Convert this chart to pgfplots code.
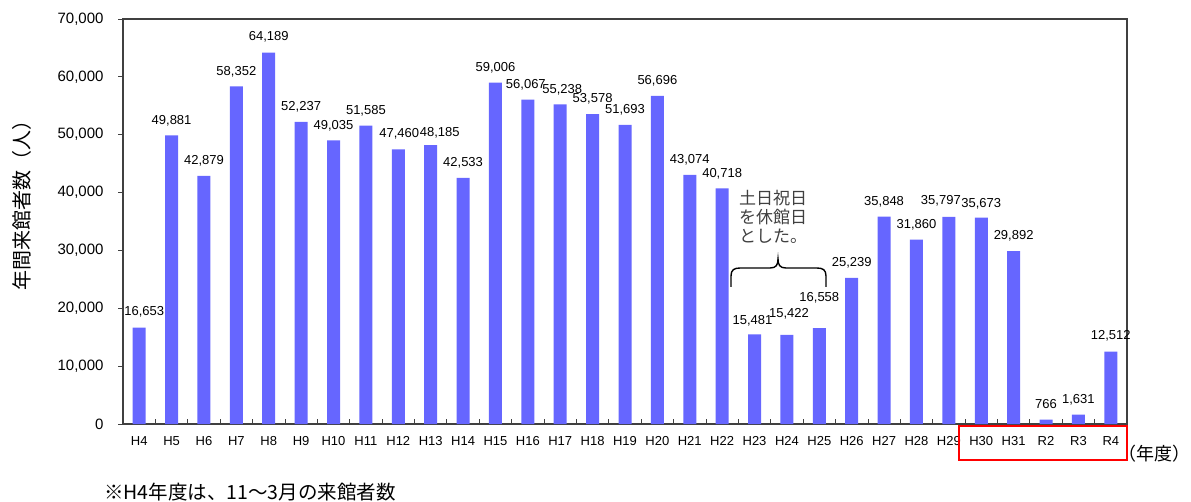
\documentclass[border=0pt]{standalone}
\usepackage{fontspec}
\setmainfont{Liberation Sans}
\newfontfamily\jp{Noto Sans CJK JP}
\usepackage{pgfplots}
\usepackage{pgfplotstable}
\pgfplotsset{compat=1.18}
\definecolor{barblue}{HTML}{6666FF}
\definecolor{axgray}{HTML}{404040}
\definecolor{notegray}{HTML}{404040}
\pgfplotstableread{
x y dx dy
0 16653 5 7
1 49881 0 6
2 42879 0 6
3 58352 0 6
4 64189 0 7
5 52237 0 6
6 49035 0 6
7 51585 0 6
8 47460 1 7
9 48185 9 4
10 42533 0 6
11 59006 0 6
12 56067 -2 6
13 55238 2 6
14 53578 0 6
15 51693 0 6
16 56696 0 6
17 43074 0 6
18 40718 0 6
19 15481 -2 5
20 15422 2 12
21 16558 0 22
22 25239 0 6
23 35848 0 6
24 31860 0 6
25 35797 -8 7
26 35673 0 5
27 29892 0 6
28 766 0 7
29 1631 0 6
30 12512 0 7
}\visitors
\begin{document}
\begin{tikzpicture}[x=1pt,y=1pt]
\useasboundingbox (0,0) rectangle (1191,501);
\begin{axis}[
  at={(123pt,77pt)}, anchor=south west,
  scale only axis, width=1004pt, height=405pt,
  xmin=-0.5, xmax=30.5, ymin=0, ymax=70000,
  ybar, bar width=13pt,
  axis line style={axgray, line width=1.2pt},
  tick align=inside,
  xtick={0,...,30},
  xticklabels={H4,H5,H6,H7,H8,H9,H10,H11,H12,H13,H14,H15,H16,H17,H18,H19,H20,H21,H22,H23,H24,H25,H26,H27,H28,H29,H30,H31,R2,R3,R4},
  major x tick style={draw=none},
  minor xtick={0.5,1.5,...,29.5},
  minor tick length=5pt,
  minor x tick style={axgray, line width=0.8pt},
  ytick={0,10000,...,70000},
  major tick length=5pt,
  y tick style={axgray, line width=0.8pt, xshift=-5pt},
  scaled y ticks=false,
  xtick pos=bottom, ytick pos=left,
  /pgf/number format/.cd, fixed, 1000 sep={,}, assume math mode=true,
  /pgfplots/.cd,
  xticklabel style={font=\fontsize{13}{13}\selectfont, yshift=-9pt},
  yticklabel style={font=\fontsize{15}{15}\selectfont, xshift=-16pt},
  nodes near coords,
  visualization depends on={\thisrow{dx} \as \labdx},
  visualization depends on={\thisrow{dy} \as \labdy},
  every node near coord/.append style={font=\fontsize{13}{13}\selectfont, black, xshift=\labdx pt, yshift=\labdy pt},
  clip=false,
]
\addplot[fill=barblue, draw=none] table[x=x, y=y] {\visitors};
\end{axis}
% y axis title
\node[rotate=90, font=\jp\fontsize{20}{20}\selectfont] at (22,300) {年間来館者数（人）};
% x axis unit
\node[anchor=west, font=\jp\fontsize{18}{18}\selectfont, inner sep=0pt] at (1127,47) {\kern-0.5em（年度）\kern-0.5em};
% red frame
\draw[red, line width=2pt] (959,41) rectangle (1127,75);
% footnote
\node[anchor=west, font=\jp\fontsize{19.5}{19.5}\selectfont, inner sep=0pt] at (104,9) {※H4年度は、11～3月の来館者数};
% annotation
\node[anchor=north west, align=left, text=notegray, font=\jp\fontsize{17}{19}\selectfont, inner sep=0pt] at (739,311) {土日祝日\\を休館日\\とした。};
\draw[black, line width=1.4pt] (731,214) -- (731,225) .. controls (731,231) and (734,233) .. (740,233) -- (770,233) .. controls (776,233) and (778,236) .. (778,242) .. controls (778,236) and (780,233) .. (786,233) -- (817,233) .. controls (823,233) and (826,231) .. (826,225) -- (826,214);
\end{tikzpicture}
\end{document}
